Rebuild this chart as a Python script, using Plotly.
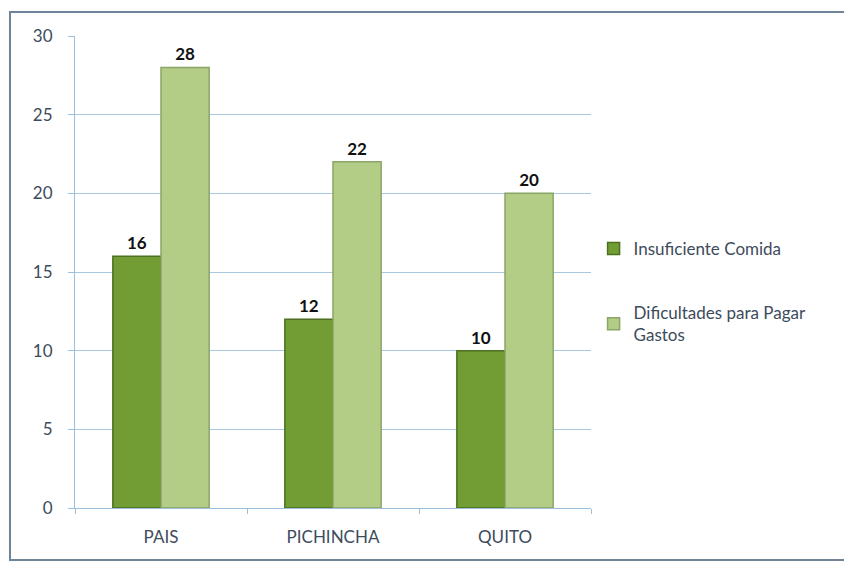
import plotly.graph_objects as go

categories = ["PAIS", "PICHINCHA", "QUITO"]
series_names = ["Insuficiente Comida", "Dificultades para Pagar<br>Gastos"]
comida = [16, 12, 10]
gastos = [28, 22, 20]
y_ticks = [0, 5, 10, 15, 20, 25, 30]

dark_green = "#729d34"
light_green = "#b3cd86"
text_col = "#3d4b5c"

fig = go.Figure()
fig.add_trace(go.Bar(
    x=categories, y=comida, name=series_names[0], legendgroup="a",
    marker=dict(color=dark_green, line=dict(color="#4c7020", width=1.5)),
    text=comida, textposition="outside",
    textfont=dict(family="Lato", size=17, color="#111111", weight="bold"),
    cliponaxis=False,
))
fig.add_trace(go.Bar(
    x=categories, y=gastos, name=series_names[1], legendgroup="b",
    marker=dict(color=light_green, line=dict(color="#8ba566", width=1.5)),
    text=gastos, textposition="outside",
    textfont=dict(family="Lato", size=17, color="#111111", weight="bold"),
    cliponaxis=False,
))

fig.update_layout(
    width=852, height=573,
    margin=dict(l=67, r=269, t=28, b=73),
    paper_bgcolor="white", plot_bgcolor="white",
    barmode="group", bargap=0.44, bargroupgap=0,
    font=dict(family="Lato", size=16, color=text_col),
    legend=dict(
        x=1.005, xanchor="left", y=0.587, yanchor="top",
        font=dict(family="Lato", size=17, color=text_col),
        traceorder="grouped", tracegroupgap=39,
        bgcolor="rgba(0,0,0,0)",
    ),
    showlegend=True,
    shapes=[dict(
        type="rect", xref="paper", yref="paper",
        x0=-0.126, x1=1.54, y0=-0.11, y1=1.051,
        line=dict(color="#6f8497", width=2), fillcolor="rgba(0,0,0,0)",
        layer="below",
    )],
)
fig.update_xaxes(
    showgrid=False, showline=True, linecolor="#9cbfdc", linewidth=1,
    ticks="outside", tickson="boundaries", ticklen=5, tickcolor="#9cbfdc",
    ticklabelstandoff=14,
    tickfont=dict(family="Lato", size=17, color=text_col),
)
fig.update_yaxes(
    range=[0, 30], tickvals=y_ticks,
    showgrid=True, gridcolor="#a9c7df", gridwidth=1,
    showline=True, linecolor="#9cbfdc", linewidth=1,
    ticks="outside", ticklen=6, tickcolor="#9cbfdc",
    ticklabelstandoff=12, zeroline=False,
    tickfont=dict(family="Lato", size=17, color=text_col),
)

fig.write_html("out.html")
